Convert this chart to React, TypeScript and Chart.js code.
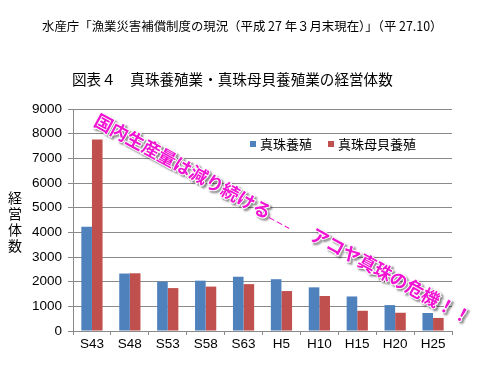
import React, { useEffect, useRef } from "react";
import { Chart, registerables } from "chart.js";

Chart.register(...registerables);

const categories = ["S43", "S48", "S53", "S58", "S63", "H5", "H10", "H15", "H20", "H25"];
const pearlCulture = [4230, 2330, 2000, 2040, 2200, 2100, 1770, 1400, 1050, 730];
const motherShellCulture = [7760, 2340, 1740, 1800, 1900, 1620, 1420, 820, 740, 530];
const seriesLabels = ["真珠養殖", "真珠母貝養殖"];
const seriesColors = ["#4F81BD", "#C0504D"];
const yMin = 0;
const yMax = 9000;
const yStep = 1000;
const sourceText = "水産庁「漁業災害補償制度の現況（平成 27 年３月末現在）」（平 27.10）";
const chartTitle = "図表４　真珠養殖業・真珠母貝養殖業の経営体数";
const yAxisTitle = "経営体数";
const annotationTexts = ["国内生産量は減り続ける", "アコヤ真珠の危機！！"];

const JP = '"Noto Sans CJK JP", "Noto Sans", sans-serif';
const LAT = '"Liberation Sans", Arial, sans-serif';

const fitText = (ctx: any, text: string, x: number, y: number, width: number, base: number, family: string) => {
  ctx.font = `${base}px ${family}`;
  const w = ctx.measureText(text).width;
  const size = (base * width) / w;
  ctx.font = `${size}px ${family}`;
  ctx.fillText(text, x, y);
};

const decorPlugin = {
  id: "decor",
  beforeDraw(chart: any) {
    const ctx = chart.ctx;
    ctx.save();
    ctx.fillStyle = "#ffffff";
    ctx.fillRect(0, 0, chart.width, chart.height);
    ctx.restore();
  },
  afterDraw(chart: any) {
    const ctx = chart.ctx;
    ctx.save();
    ctx.fillStyle = "#000";
    ctx.textBaseline = "middle";
    ctx.textAlign = "left";
    // source line
    fitText(ctx, sourceText, 42, 26, 401, 12, JP);
    // chart title
    fitText(ctx, chartTitle, 72, 79, 321, 14.5, JP);
    // y axis title, stacked
    ctx.font = `14px ${JP}`;
    ctx.textAlign = "center";
    Array.from(yAxisTitle).forEach((c, i) => ctx.fillText(c, 15, 198 + i * 16));
    // legend
    ctx.textAlign = "left";
    ctx.font = `13px ${JP}`;
    const legendX = [250, 328];
    chart.data.datasets.forEach((ds: any, i: number) => {
      ctx.fillStyle = ds.backgroundColor;
      ctx.fillRect(legendX[i], 141, 6, 6);
      ctx.fillStyle = "#000";
      ctx.fillText(ds.label, legendX[i] + 10, 144);
    });
    // pink annotations
    const drawAnno = (text: string, x: number, y: number, angle: number, tail: boolean) => {
      ctx.save();
      ctx.translate(x, y);
      ctx.rotate((angle * Math.PI) / 180);
      ctx.font = `bold 18px ${JP}`;
      ctx.textAlign = "left";
      ctx.textBaseline = "middle";
      ctx.shadowColor = "rgba(0,0,0,0.45)";
      ctx.shadowOffsetX = 2;
      ctx.shadowOffsetY = 2;
      ctx.shadowBlur = 2;
      ctx.lineWidth = 2;
      ctx.strokeStyle = "#ffffff";
      ctx.strokeText(text, 0, 0);
      ctx.shadowColor = "transparent";
      ctx.fillStyle = "#F014D2";
      ctx.fillText(text, 0, 0);
      if (tail) {
        const w = ctx.measureText(text).width;
        ctx.strokeStyle = "#F014D2";
        ctx.lineWidth = 1;
        ctx.setLineDash([6, 3]);
        ctx.beginPath();
        ctx.moveTo(w + 1, 4);
        ctx.lineTo(w + 24, 4);
        ctx.stroke();
      }
      ctx.restore();
    };
    drawAnno(annotationTexts[0], 96, 119, 28.5, true);
    drawAnno(annotationTexts[1], 312, 233, 28.5, false);
    ctx.restore();
  },
};

export default function App() {
  const ref = useRef<HTMLCanvasElement | null>(null);
  useEffect(() => {
    if (!ref.current) return;
    const chart = new Chart(ref.current, {
      type: "bar",
      data: {
        labels: categories,
        datasets: [
          { label: seriesLabels[0], data: pearlCulture, backgroundColor: seriesColors[0], borderWidth: 0 },
          { label: seriesLabels[1], data: motherShellCulture, backgroundColor: seriesColors[1], borderWidth: 0 },
        ],
      },
      options: {
        responsive: false,
        animation: false,
        devicePixelRatio: 1,
        layout: { padding: { left: 0, right: 48, top: 109, bottom: 0 } },
        datasets: { bar: { categoryPercentage: 0.56, barPercentage: 1 } },
        plugins: { legend: { display: false }, tooltip: { enabled: false }, title: { display: false } },
        scales: {
          x: {
            grid: { display: true, drawOnChartArea: false, drawTicks: true, tickLength: 4, color: "#8a8a8a", offset: true },
            border: { color: "#8a8a8a" },
            ticks: { color: "#000", font: { family: LAT, size: 13.5 }, padding: 1, maxRotation: 0 },
            afterFit: (s: any) => { s.height = 44; },
          },
          y: {
            min: yMin,
            max: yMax,
            ticks: {
              stepSize: yStep,
              color: "#000",
              font: { family: LAT, size: 13.5 },
              padding: 6,
              callback: (v: any) => String(v),
            },
            grid: { color: "#8a8a8a", tickLength: 5 },
            border: { color: "#8a8a8a" },
            afterFit: (s: any) => { s.width = 73; },
          },
        },
      } as any,
      plugins: [decorPlugin],
    });
    return () => chart.destroy();
  }, []);
  return (
    <div style={{ position: "absolute", left: 0, top: 0, width: 500, height: 375, background: "#fff" }}>
      <canvas ref={ref} width={500} height={375} style={{ display: "block" }} />
    </div>
  );
}
